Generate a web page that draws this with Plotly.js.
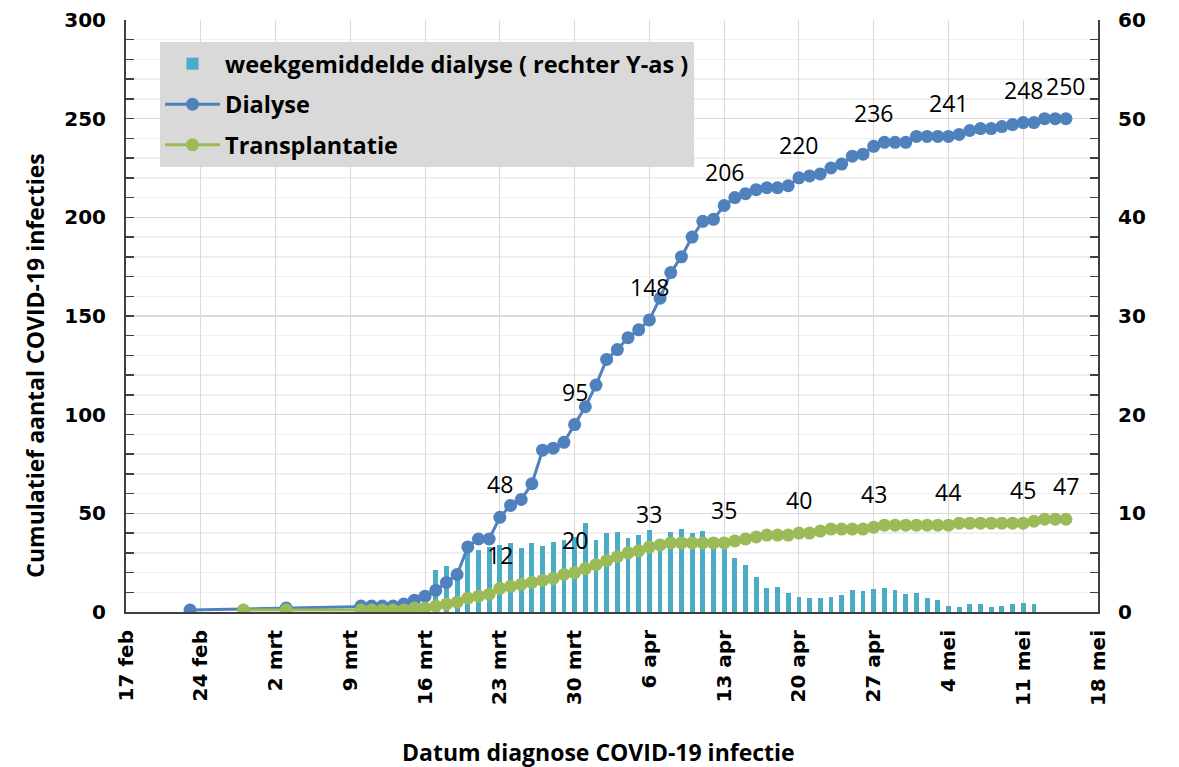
<!DOCTYPE html>
<html>
<head>
<meta charset="utf-8">
<script src="https://cdn.plot.ly/plotly-3.0.1.min.js"></script>
<style>
  html, body { margin: 0; padding: 0; background: #ffffff; }
  #chart { width: 1179px; height: 767px; }
</style>
</head>
<body>
<div id="chart"></div>
<script>
// ---------- DATA ----------
// x-axis ticks (weekly) and their Dutch labels
const tickDates = ['2020-02-17','2020-02-24','2020-03-02','2020-03-09','2020-03-16','2020-03-23','2020-03-30',
                   '2020-04-06','2020-04-13','2020-04-20','2020-04-27','2020-05-04','2020-05-11','2020-05-18'];
const tickLabels = ['17 feb','24 feb','2 mrt','9 mrt','16 mrt','23 mrt','30 mrt',
                    '6 apr','13 apr','20 apr','27 apr','4 mei','11 mei','18 mei'];

// early isolated observations
const dialysisEarlyDates = ['2020-02-23','2020-03-03'];
const dialysisEarly = [1, 2];
const transplantEarlyDates = ['2020-02-28','2020-03-03'];
const transplantEarly = [1, 1];

// daily cumulative values from 10 mrt to 15 mei
const dailyStart = '2020-03-10';
const dialysis = [3,3,3,3,4,6,8,11,15,19,33,37,37,48,54,57,65,82,83,86,95,104,
                  115,128,133,139,143,148,159,172,180,190,198,199,206,210,212,214,215,215,216,220,
                  221,222,225,227,231,232,236,238,238,238,
                  241,241,241,241,242,244,245,245,246,247,248,248,250,250,250];
const transplant = [1,1,1,1,1,2,2,3,4,5,7,8,9,12,13,14,15,16,17,19,20,22,
                    24,26,28,30,31,33,34,35,35,35,35,35,35,36,37,38,39,39,39,40,
                    40,41,42,42,42,42,43,44,44,44,
                    44,44,44,44,45,45,45,45,45,45,45,46,47,47,47];

// weekly average dialysis (right axis), daily from 15 mrt to 12 mei
const barStart = '2020-03-15';
const weekAvg = [1.0,2.2,4.3,4.7,3.9,6.0,6.3,6.6,6.8,7.0,6.5,7.0,6.7,7.1,7.3,7.6,9.0,
                 7.3,8.0,8.1,7.5,7.8,8.3,7.3,8.1,8.4,8.0,8.2,7.1,6.4,5.5,4.8,3.5,2.4,2.5,1.9,
                 1.55,1.4,1.4,1.55,1.7,2.2,2.1,2.3,2.4,2.2,1.8,
                 1.9,1.4,1.2,0.6,0.5,0.8,0.85,0.5,0.6,0.8,0.95,0.8];

// dates that carry a data label
const labelDates = ['2020-03-23','2020-03-30','2020-04-06','2020-04-13','2020-04-20',
                    '2020-04-27','2020-05-04','2020-05-11','2020-05-15'];

// ---------- HELPERS ----------
function dateSeq(start, n) {
  const out = [];
  const d0 = new Date(start + 'T00:00:00Z');
  for (let i = 0; i < n; i++) {
    const d = new Date(d0.getTime() + i * 86400000);
    out.push(d.toISOString().slice(0, 10));
  }
  return out;
}
const dailyDates = dateSeq(dailyStart, dialysis.length);
const barDates = dateSeq(barStart, weekAvg.length);

const dialysisX = dialysisEarlyDates.concat(dailyDates);
const dialysisY = dialysisEarly.concat(dialysis);
const transplantX = transplantEarlyDates.concat(dailyDates);
const transplantY = transplantEarly.concat(transplant);

const BLUE = '#4F81BD', GREEN = '#9BBB59', TEAL = '#4BACC6';
const AXIS = '#404040';

const traces = [
  {
    type: 'bar', name: 'weekgemiddelde dialyse ( rechter Y-as )',
    x: barDates, y: weekAvg, xaxis: 'x', yaxis: 'y',
    marker: { color: TEAL, line: { width: 0 } },
    width: 0.45 * 86400000, legendgroup: 'a'
  },
  {
    type: 'scatter', mode: 'lines+markers', name: 'Dialyse',
    x: dialysisX, y: dialysisY, xaxis: 'x', yaxis: 'y2',
    line: { color: BLUE, width: 3 }, marker: { color: BLUE, size: 13 }, legendgroup: 'b'
  },
  {
    type: 'scatter', mode: 'lines+markers', name: 'Transplantatie',
    x: transplantX, y: transplantY, xaxis: 'x', yaxis: 'y2',
    line: { color: GREEN, width: 3 }, marker: { color: GREEN, size: 13 }, legendgroup: 'c'
  }
];

// data labels from the series
const labelFont = { family: 'Open Sans, sans-serif', size: 23, color: '#000000' };
const annotations = [];
[[dialysisX, dialysisY], [transplantX, transplantY]].forEach(([xs, ys]) => {
  xs.forEach((d, i) => {
    if (labelDates.includes(d)) {
      annotations.push({
        x: d, y: ys[i], xref: 'x', yref: 'y2', text: String(ys[i]),
        showarrow: false, yshift: 33, font: labelFont
      });
    }
  });
});

// axis titles (as text annotations placed like the original)
const titleFont = { family: 'Open Sans, sans-serif', size: 23, color: '#000000', weight: 'bold' };
annotations.push({
  xref: 'paper', yref: 'paper', x: -0.094, y: 0.4155, xanchor: 'center', yanchor: 'middle',
  text: 'Cumulatief aantal COVID-19 infecties', textangle: -90, showarrow: false,
  font: titleFont
});
annotations.push({
  xref: 'paper', yref: 'paper', x: 0.4856, y: -0.2365, xanchor: 'center', yanchor: 'middle',
  text: 'Datum diagnose COVID-19 infectie', showarrow: false,
  font: titleFont
});

const tickFont = { family: 'DejaVu Sans, sans-serif', size: 20, color: '#000000', weight: 'bold' };

const layout = {
  width: 1179, height: 767,
  margin: { l: 126, r: 81, t: 20, b: 155, pad: 0 },
  paper_bgcolor: '#ffffff', plot_bgcolor: '#ffffff',
  showlegend: true,
  legend: {
    x: 0.035, y: 0.963, xanchor: 'left', yanchor: 'top',
    bgcolor: '#D9D9D9', borderwidth: 0,
    font: { family: 'Open Sans, sans-serif', size: 23.5, color: '#000000', weight: 700 },
    tracegroupgap: 7, itemwidth: 55, traceorder: 'grouped'
  },
  bargap: 0,
  xaxis: {
    type: 'date', range: ['2020-02-17', '2020-05-18'],
    tickvals: tickDates, ticktext: tickLabels, tickangle: -90,
    tickfont: tickFont, showgrid: true, gridcolor: '#D9D9D9', gridwidth: 1,
    showline: true, linecolor: AXIS, linewidth: 2, ticks: '', zeroline: false,
    ticklabelstandoff: 8, anchor: 'y'
  },
  yaxis: {
    side: 'right', range: [0, 60], dtick: 10, tick0: 0,
    tickfont: tickFont, showgrid: true, gridcolor: '#D9D9D9', gridwidth: 1.5,
    showline: true, linecolor: AXIS, linewidth: 2, ticks: 'inside', ticklen: 8, tickcolor: AXIS, tickwidth: 1.5,
    minor: { dtick: 2, showgrid: true, gridcolor: '#EFEFEF', ticks: 'inside', ticklen: 8, tickcolor: AXIS, tickwidth: 1.5 },
    zeroline: false, ticklabelstandoff: 14, fixedrange: true
  },
  yaxis2: {
    overlaying: 'y', side: 'left', range: [0, 300], dtick: 50, tick0: 0,
    tickfont: tickFont, showgrid: false,
    showline: true, linecolor: AXIS, linewidth: 2, ticks: 'inside', ticklen: 8, tickcolor: AXIS, tickwidth: 1.5,
    minor: { dtick: 10, showgrid: false, ticks: 'inside', ticklen: 8, tickcolor: AXIS, tickwidth: 1.5 },
    zeroline: false, ticklabelstandoff: 14
  },
  annotations: annotations
};

Plotly.newPlot('chart', traces, layout, { displayModeBar: false, staticPlot: true });
</script>
</body>
</html>
